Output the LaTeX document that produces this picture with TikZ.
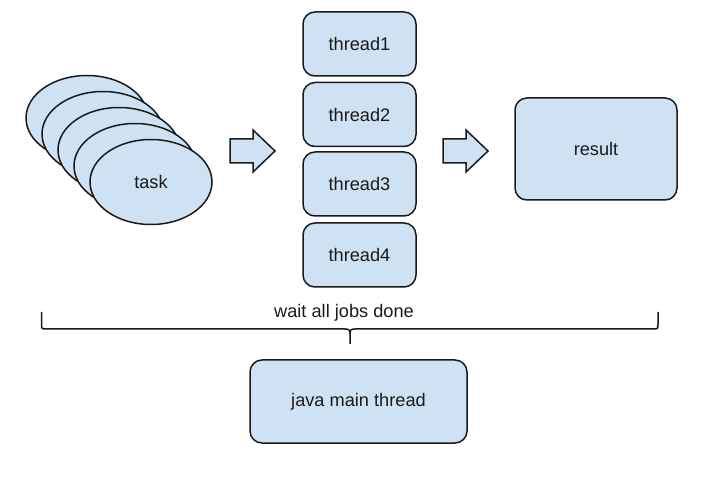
\documentclass[tikz,border=0pt]{standalone}
\usepackage{fontspec}
\setmainfont{Liberation Sans}
\usetikzlibrary{shapes.geometric}
\definecolor{boxfill}{HTML}{CFE2F3}
\definecolor{ink}{HTML}{1A1A1A}
\begin{document}
\begin{tikzpicture}[x=1pt,y=-1pt,
  every node/.style={font=\fontsize{18.2}{21}\selectfont, text=ink},
  shape line/.style={draw=ink, line width=1.5pt, fill=boxfill},
  rbox/.style={shape line, rectangle, rounded corners=12pt, inner sep=0pt},
  taskell/.style={shape line, ellipse, minimum width=122pt, minimum height=85pt, inner sep=0pt},
  blockarrow/.style={shape line, line join=miter},
  bracestyle/.style={draw=ink, line width=1.5pt}]
\useasboundingbox (0,0) rectangle (702,478);
\fill[white] (0,0) rectangle (702,478);
% task ellipses
\node[taskell] (t1) at (87,118) {};
\node[taskell] (t2) at (103,134) {};
\node[taskell] (t3) at (119,150) {};
\node[taskell] (t4) at (135,166) {};
\node[taskell] (task) at (151,182) {task};
% threads
\node[rbox, minimum width=113pt, minimum height=64pt] (th1) at (359.5,44) {thread1};
\node[rbox, minimum width=113pt, minimum height=64pt] (th2) at (359.5,114.5) {thread2};
\node[rbox, minimum width=113pt, minimum height=64pt] (th3) at (359.5,184) {thread3};
\node[rbox, minimum width=113pt, minimum height=64pt] (th4) at (359.5,255) {thread4};
% result
\node[rbox, minimum width=162pt, minimum height=102pt] (res) at (596,149) {result};
% main thread
\node[rbox, minimum width=217pt, minimum height=83pt] (main) at (358.5,401.5) {java main thread};
% block arrows
\draw[blockarrow] (230,139) -- (253,139) -- (253,130) -- (275,151) -- (253,172) -- (253,163) -- (230,163) -- cycle;
\draw[blockarrow] (443,139) -- (466,139) -- (466,130) -- (488,151) -- (466,172) -- (466,163) -- (443,163) -- cycle;
% brace
\coordinate (bl) at (41.5,312);
\coordinate (br) at (658,312);
\coordinate (bm) at (350,334);
\coordinate (btip) at (350,344);
\draw[bracestyle] (bl) -- (41.5,324) .. controls (41.5,329) and (42,329) .. (46,329) -- (345,329) .. controls (349,329) and (350,330) .. (bm) -- (btip);
\draw[bracestyle] (br) -- (658,324) .. controls (658,329) and (657.5,329) .. (653,329) -- (355,329) .. controls (351,329) and (350,330) .. (bm);
\node (wait) at (344,313) {wait all jobs done};
\end{tikzpicture}
\end{document}
